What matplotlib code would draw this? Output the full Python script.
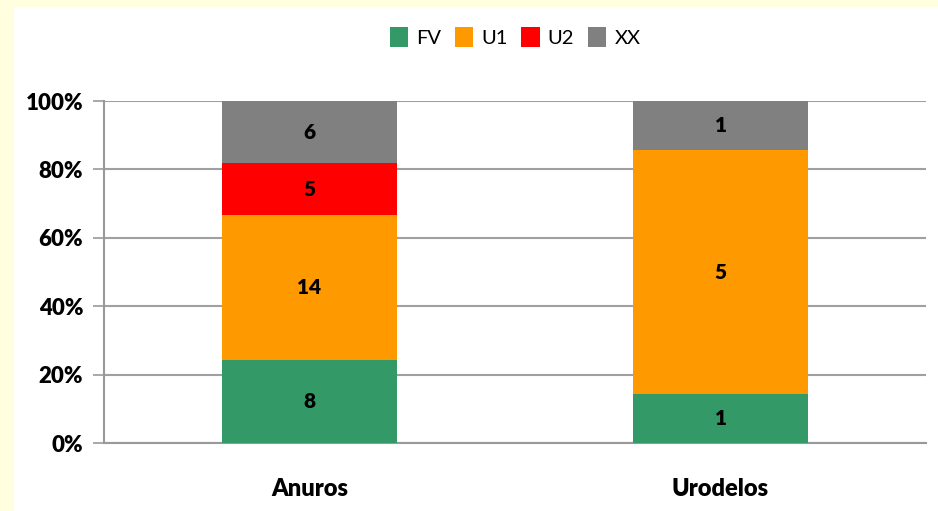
import matplotlib
matplotlib.use("Agg")
import matplotlib.pyplot as plt
from matplotlib.patches import Rectangle, Patch
import numpy as np

categories = ["Anuros", "Urodelos"]
series = ["FV", "U1", "U2", "XX"]
counts = {
    "FV": [8, 1],
    "U1": [14, 5],
    "U2": [5, 0],
    "XX": [6, 1],
}
colors = {"FV": "#339966", "U1": "#FF9900", "U2": "#FF0000", "XX": "#808080"}

W, H = 938, 511
plt.rcParams["font.family"] = ["Lato", "DejaVu Sans"]

fig = plt.figure(figsize=(W / 100, H / 100), dpi=100)
fig.patch.set_facecolor("#FFFFE0")
fig.patches.append(Rectangle((14 / W, 0), 1, 1 - 7 / H, transform=fig.transFigure,
                             facecolor="white", edgecolor="none", zorder=-5))

ax = fig.add_axes([104 / W, 1 - 443 / H, (926 - 104) / W, (443 - 101) / H])
ax.set_facecolor("none")
ax.set_zorder(2)

totals = np.sum([counts[s] for s in series], axis=0)
x = np.arange(len(categories))
bottom = np.zeros(len(categories))
for s in series:
    vals = np.array(counts[s], dtype=float)
    frac = vals / totals
    ax.bar(x, frac, 0.425, bottom=bottom, color=colors[s], zorder=3, label=s)
    for i, v in enumerate(vals):
        if v > 0:
            ax.text(x[i], bottom[i] + frac[i] / 2, f"{int(v)}", ha="center", va="center",
                    fontsize=15, fontweight="heavy", color="black", zorder=4)
    bottom += frac

ax.set_xlim(-0.5, 1.5)
ax.set_ylim(0, 1)
ax.set_yticks(np.linspace(0, 1, 6))
ax.set_yticklabels([f"{int(t * 100)}%" for t in np.linspace(0, 1, 6)],
                   fontsize=16, fontweight="heavy")
ax.set_xticks(x)
ax.set_xticklabels(categories, fontsize=17, fontweight="heavy")
ax.tick_params(axis="x", length=0, pad=25)
ax.tick_params(axis="y", length=8, width=1.2, color="#999999", pad=7)
ax.grid(axis="y", color="#A0A0A0", linewidth=1.5, zorder=1)
for side in ["top", "right"]:
    ax.spines[side].set_visible(False)
ax.spines["left"].set_color("#999999")
ax.spines["left"].set_linewidth(1.5)
ax.spines["bottom"].set_color("#999999")
ax.spines["bottom"].set_linewidth(1.5)

handles = [Patch(facecolor=colors[s], label=s) for s in series]
fig.legend(handles=handles, loc="center", bbox_to_anchor=(515 / W, 1 - 37 / H),
           ncol=4, frameon=False, fontsize=14.5, handlelength=0.9, handleheight=1.15,
           handletextpad=0.4, columnspacing=0.7)

fig.savefig("out.png", dpi=100, facecolor=fig.get_facecolor())
